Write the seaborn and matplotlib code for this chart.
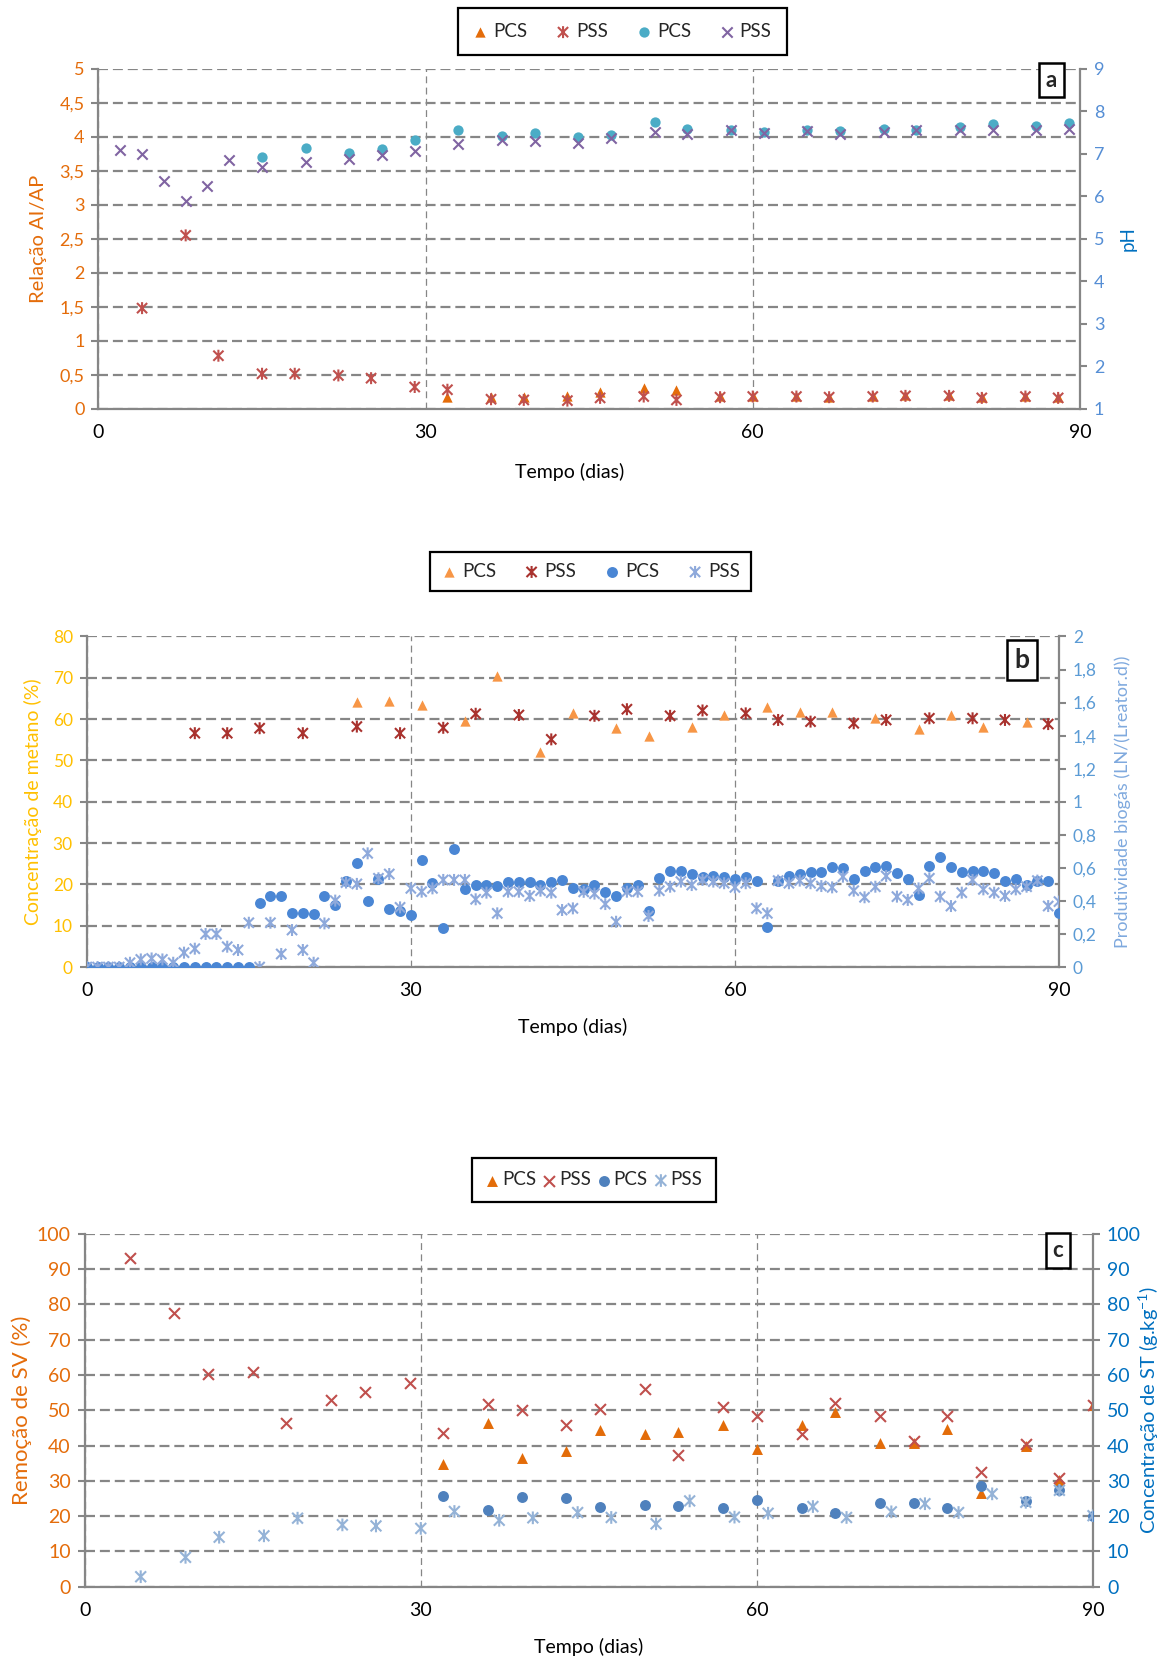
import matplotlib
matplotlib.use("Agg")
import matplotlib.pyplot as plt
import seaborn as sns
from matplotlib.path import Path
from matplotlib.ticker import FixedLocator, FuncFormatter

# ---------------- data ----------------
# panel a: AI/AP ratio (left axis) and pH (right axis)
a_ratio_pcs_days = [32, 36, 39, 43, 46, 50, 53, 57, 60, 64, 67, 71, 74, 78, 81, 85, 88]
a_ratio_pcs = [0.17, 0.17, 0.18, 0.19, 0.24, 0.30, 0.27, 0.19, 0.19, 0.19, 0.18, 0.19,
               0.20, 0.20, 0.18, 0.19, 0.18]
a_ratio_pss_days = [4, 8, 11, 15, 18, 22, 25, 29, 32, 36, 39, 43, 46, 50, 53, 57, 60, 64,
                    67, 71, 74, 78, 81, 85, 88]
a_ratio_pss = [1.48, 2.55, 0.78, 0.515, 0.515, 0.49, 0.45, 0.32, 0.28, 0.14, 0.13, 0.12,
               0.16, 0.18, 0.13, 0.17, 0.18, 0.18, 0.17, 0.18, 0.19, 0.19, 0.16, 0.18, 0.16]
a_ph_pcs_days = [15, 19, 23, 26, 29, 33, 37, 40, 44, 47, 51, 54, 58, 61, 65, 68, 72, 75,
                 79, 82, 86, 89]
a_ph_pcs = [6.93, 7.13, 7.02, 7.12, 7.32, 7.57, 7.42, 7.50, 7.40, 7.45, 7.74, 7.58, 7.56,
            7.51, 7.55, 7.54, 7.58, 7.56, 7.62, 7.71, 7.66, 7.72]
a_ph_pss_days = [2, 4, 6, 8, 10, 12, 15, 19, 23, 26, 29, 33, 37, 40, 44, 47, 51, 54, 58,
                 61, 65, 68, 72, 75, 79, 82, 86, 89]
a_ph_pss = [7.08, 6.99, 6.36, 5.89, 6.23, 6.86, 6.70, 6.80, 6.87, 6.96, 7.07, 7.23, 7.33,
            7.30, 7.25, 7.37, 7.51, 7.47, 7.55, 7.50, 7.54, 7.47, 7.52, 7.55, 7.56, 7.56,
            7.55, 7.58]

# panel b: methane concentration (left) and biogas productivity (right)
b_ch4_pcs_days = [25, 28, 31, 35, 38, 42, 45, 49, 52, 56, 59, 63, 66, 69, 73, 77, 80, 83, 87]
b_ch4_pcs = [64.1, 64.5, 63.4, 59.5, 70.5, 52.0, 61.6, 57.8, 55.9, 58.2, 60.9, 63.0, 61.8,
             61.8, 60.2, 57.6, 60.9, 58.2, 59.4]
b_ch4_pss_days = [10, 13, 16, 20, 25, 29, 33, 36, 40, 43, 47, 50, 54, 57, 61, 64, 67, 71,
                  74, 78, 82, 85, 89]
b_ch4_pss = [56.6, 56.6, 57.8, 56.6, 58.2, 56.6, 57.9, 61.3, 61.0, 55.1, 60.8, 62.4, 60.8,
             62.1, 61.4, 59.8, 59.4, 59.0, 59.8, 60.2, 60.2, 59.8, 58.8]
b_days = list(range(0, 91))
b_gas_pcs = [0, 0, 0, 0, 0, 0, 0, 0, 0, 0, 0, 0, 0, 0, 0, 0,
             0.387, 0.43, 0.43, 0.325, 0.329, 0.321, 0.43, 0.375, 0.523, 0.628, 0.402,
             0.531, 0.349, 0.339, 0.315, 0.648, 0.511, 0.234, 0.712, 0.47, 0.494, 0.494,
             0.49, 0.517, 0.513, 0.513, 0.494, 0.513, 0.527, 0.48, 0.47, 0.494, 0.456,
             0.43, 0.476, 0.494, 0.341, 0.541, 0.583, 0.581, 0.561, 0.547, 0.551, 0.547,
             0.535, 0.547, 0.523, 0.244, 0.523, 0.551, 0.561, 0.577, 0.577, 0.607, 0.597,
             0.535, 0.583, 0.607, 0.611, 0.567, 0.535, 0.434, 0.611, 0.668, 0.603, 0.575,
             0.583, 0.579, 0.567, 0.523, 0.531, 0.494, 0.523, 0.523, 0.325]
b_gas_pss = [0, 0, 0, 0, 0.026, 0.046, 0.052, 0.046, 0.026, 0.087, 0.111, 0.2, 0.2, 0.123,
             0.103, 0.268, 0.0, 0.268, 0.079, 0.224, 0.103, 0.026, 0.264, 0.402, 0.511,
             0.503, 0.688, 0.537, 0.563, 0.361, 0.476, 0.456, 0.476, 0.527, 0.527, 0.527,
             0.41, 0.45, 0.325, 0.456, 0.456, 0.43, 0.462, 0.45, 0.345, 0.355, 0.455,
             0.444, 0.381, 0.274, 0.456, 0.456, 0.309, 0.462, 0.486, 0.517, 0.496, 0.527,
             0.517, 0.507, 0.482, 0.507, 0.355, 0.325, 0.523, 0.507, 0.523, 0.507, 0.49,
             0.482, 0.547, 0.462, 0.422, 0.486, 0.551, 0.426, 0.406, 0.476, 0.537, 0.426,
             0.369, 0.45, 0.527, 0.47, 0.45, 0.43, 0.47, 0.486, 0.523, 0.369, 0.396]

# panel c: VS removal (left) and TS concentration (right)
c_pcs_days = [32, 36, 39, 43, 46, 50, 53, 57, 60, 64, 67, 71, 74, 77, 80, 84, 87, 90]
c_sv_pcs = [34.7, 46.4, 36.5, 38.4, 44.3, 43.3, 43.8, 45.9, 39.0, 45.8, 49.4, 40.7, 40.7,
            44.7, 26.5, 39.8, 30.3, 51.6]
c_st_pcs = [25.8, 21.8, 25.4, 25.0, 22.7, 23.1, 22.9, 22.2, 24.6, 22.3, 21.0, 23.7, 23.7,
            22.4, 28.4, 24.4, 27.5, 19.9]
c_sv_pss_days = [4, 8, 11, 15, 18, 22, 25, 29, 32, 36, 39, 43, 46, 50, 53, 57, 60, 64, 67,
                 71, 74, 77, 80, 84, 87, 90]
c_sv_pss = [93.3, 77.7, 60.4, 60.8, 46.4, 53.0, 55.1, 57.6, 43.6, 51.9, 50.2, 45.9, 50.4,
            56.1, 37.3, 50.9, 48.3, 43.4, 52.1, 48.3, 41.2, 48.3, 32.4, 40.5, 30.8, 51.6]
c_st_pss_days = [5, 9, 12, 16, 19, 23, 26, 30, 33, 37, 40, 44, 47, 51, 54, 58, 61, 65, 68,
                 72, 75, 78, 81, 84, 87, 90]
c_st_pss = [2.8, 8.3, 14.0, 14.4, 19.4, 17.5, 17.2, 16.5, 21.3, 18.8, 19.5, 21.0, 19.6,
            17.8, 24.3, 19.7, 20.8, 22.7, 19.6, 21.2, 23.5, 21.0, 26.3, 23.9, 27.3, 20.1]

x_ticks = [0, 30, 60, 90]
a_left_ticks = [0, 0.5, 1, 1.5, 2, 2.5, 3, 3.5, 4, 4.5, 5]
a_right_ticks = [1, 2, 3, 4, 5, 6, 7, 8, 9]
b_left_ticks = [0, 10, 20, 30, 40, 50, 60, 70, 80]
b_right_ticks = [0, 0.2, 0.4, 0.6, 0.8, 1, 1.2, 1.4, 1.6, 1.8, 2]
c_ticks = [0, 10, 20, 30, 40, 50, 60, 70, 80, 90, 100]

# ---------------- style ----------------
sns.set_style("white")
plt.rcParams["font.family"] = ["Lato", "DejaVu Sans"]
plt.rcParams["mathtext.fontset"] = "custom"
plt.rcParams["mathtext.rm"] = "Lato"
plt.rcParams["mathtext.it"] = "Lato:italic"

GRID = "#868686"
XTICK_FS = 14
XLAB_FS = 14
LEG_FS = 13.5

# excel-like asterisk: an x with a vertical bar
STAR = Path([(0, -1), (0, 1), (-0.85, -0.85), (0.85, 0.85), (-0.85, 0.85), (0.85, -0.85)],
            [Path.MOVETO, Path.LINETO] * 3)


def comma(v, pos=None):
    return f"{v:g}".replace(".", ",")


def pts(ax, x, y, kind, color, label, s=55):
    if kind == "tri":
        sns.scatterplot(x=x, y=y, ax=ax, marker="^", color=color, s=s, linewidth=0,
                        label=label, legend=False, zorder=3)
    elif kind == "dot":
        sns.scatterplot(x=x, y=y, ax=ax, marker="o", color=color, s=s, linewidth=0,
                        label=label, legend=False, zorder=3)
    elif kind == "x":
        sns.scatterplot(x=x, y=y, ax=ax, marker="x", color=color, s=s, linewidth=1.5,
                        label=label, legend=False, zorder=3)
    else:
        sns.scatterplot(x=x, y=y, ax=ax, marker=STAR, color=color, facecolor="none",
                        edgecolor=color, s=s * 1.35, linewidth=1.5, label=label,
                        legend=False, zorder=3)


def style_panel(ax, ax2, ylim, yticks, ylim2, yticks2, lcol, rcol, rtick_col,
                ylabel, ylabel2, lpos, rpos, xlab_pos, ytick_fs, ylab_fs, ylab2_fs):
    ax.set_xlim(0, 90)
    ax.set_ylim(*ylim)
    ax2.set_ylim(*ylim2)
    ax.xaxis.set_major_locator(FixedLocator(x_ticks))
    ax.yaxis.set_major_locator(FixedLocator(yticks))
    ax2.yaxis.set_major_locator(FixedLocator(yticks2))
    ax.yaxis.set_major_formatter(FuncFormatter(comma))
    ax2.yaxis.set_major_formatter(FuncFormatter(comma))

    ax.set_axisbelow(True)
    ax.yaxis.grid(True, color=GRID, lw=1.6, ls=(0, (4.5, 2.2)))
    ax.xaxis.grid(True, color=GRID, lw=0.9, ls=(0, (5.5, 3.5)))

    for sp in ["top", "right"]:
        ax.spines[sp].set_visible(False)
    for sp in ["top", "left", "bottom"]:
        ax2.spines[sp].set_visible(False)
    for sp in [ax.spines["left"], ax.spines["bottom"], ax2.spines["right"]]:
        sp.set_color(GRID)
        sp.set_linewidth(1.6)

    ax.tick_params(axis="both", direction="out", length=5, width=1.5, color=GRID, pad=5)
    ax.tick_params(axis="x", labelcolor="black", labelsize=XTICK_FS, pad=6)
    ax.tick_params(axis="y", labelcolor=lcol, labelsize=ytick_fs)
    ax2.tick_params(axis="y", direction="out", length=5, width=1.5, color=GRID,
                    labelsize=ytick_fs, labelcolor=rtick_col, pad=5)

    ax.set_xlabel("Tempo (dias)", fontsize=XLAB_FS, color="black")
    ax.xaxis.set_label_coords(*xlab_pos)
    ax.set_ylabel(ylabel, fontsize=ylab_fs, color=lcol)
    ax.yaxis.set_label_coords(lpos, 0.5)
    ax2.set_ylabel(ylabel2, fontsize=ylab2_fs, color=rcol)
    ax2.yaxis.set_label_coords(rpos, 0.5)


def panel_tag(ax, x, y, letter, fs):
    ax.text(x, y, letter, transform=ax.transAxes, ha="center", va="center",
            fontsize=fs, fontweight="bold", zorder=10,
            bbox=dict(boxstyle="square,pad=0.3", fc="white", ec="black", lw=1.8))


def top_legend(fig, axes, center, colsp, textpad, borderpad):
    handles, labels = [], []
    for a in axes:
        h, l = a.get_legend_handles_labels()
        handles += h
        labels += l
    leg = fig.legend(handles, labels, loc="center", bbox_to_anchor=center, ncol=4,
                     frameon=True, fancybox=False, edgecolor="black", framealpha=1,
                     fontsize=LEG_FS, handlelength=0.8, handletextpad=textpad,
                     columnspacing=colsp, borderpad=borderpad, scatterpoints=1)
    leg.get_frame().set_linewidth(1.6)
    return leg


fig = plt.figure(figsize=(11.65, 16.61), dpi=100)

# ---------------- panel a ----------------
ax = fig.add_axes([0.0845, 0.7539, 0.8425, 0.2047])
ax2 = ax.twinx()
pts(ax, a_ratio_pcs_days, a_ratio_pcs, "tri", "#E46C0A", "PCS")
pts(ax, a_ratio_pss_days, a_ratio_pss, "star", "#C0504D", "PSS")
pts(ax2, a_ph_pcs_days, a_ph_pcs, "dot", "#4BACC6", "PCS")
pts(ax2, a_ph_pss_days, a_ph_pss, "x", "#8064A2", "PSS")
style_panel(ax, ax2, (0, 5), a_left_ticks, (1, 9), a_right_ticks,
            "#E46C0A", "#0070C0", "#558ED5", "Relação AI/AP", "pH",
            -0.052, 1.0407, (0.48, -0.159), 13, 14.5, 13.5)
panel_tag(ax2, 0.971, 0.966, "a", 16)
top_legend(fig, [ax, ax2], (0.534, 0.981), 1.5, 0.3, 0.8)

# ---------------- panel b ----------------
bx = fig.add_axes([0.0745, 0.4178, 0.8345, 0.1990])
bx2 = bx.twinx()
pts(bx, b_ch4_pcs_days, b_ch4_pcs, "tri", "#F79646", "PCS")
pts(bx, b_ch4_pss_days, b_ch4_pss, "star", "#A9322E", "PSS")
pts(bx2, b_days, b_gas_pcs, "dot", "#4A86D4", "PCS", s=62)
pts(bx2, b_days, b_gas_pss, "star", "#8EA9DB", "PSS")
style_panel(bx, bx2, (0, 80), b_left_ticks, (0, 2), b_right_ticks,
            "#FFC000", "#7FA9DE", "#5B9BD5", "Concentração de metano (%)",
            "Produtividade biogás (LN/(Lreator.d))",
            -0.046, 1.0566, (0.5, -0.154), 12.5, 14, 13)
panel_tag(bx2, 0.962, 0.930, "b", 19)
top_legend(fig, [bx, bx2], (0.507, 0.656), 1.5, 0.3, 0.6)

# ---------------- panel c ----------------
cx = fig.add_axes([0.0727, 0.0448, 0.8655, 0.2123])
cx2 = cx.twinx()
pts(cx, c_pcs_days, c_sv_pcs, "tri", "#E36C09", "PCS", s=62)
pts(cx, c_sv_pss_days, c_sv_pss, "x", "#C0504D", "PSS", s=62)
pts(cx2, c_pcs_days, c_st_pcs, "dot", "#4F81BD", "PCS", s=62)
pts(cx2, c_st_pss_days, c_st_pss, "star", "#95B3D7", "PSS", s=62)
style_panel(cx, cx2, (0, 100), c_ticks, (0, 100), c_ticks,
            "#E46C0A", "#0070C0", "#0070C0", "Remoção de SV (%)",
            "Concentração de ST (g.kg$^{-1}$)",
            -0.052, 1.0437, (0.5, -0.146), 14, 16, 14.5)
panel_tag(cx2, 0.965, 0.953, "c", 16)
top_legend(fig, [cx, cx2], (0.5095, 0.2896), 0.3, 0.12, 0.7)

fig.savefig("out.png", dpi=100)
plt.close(fig)
